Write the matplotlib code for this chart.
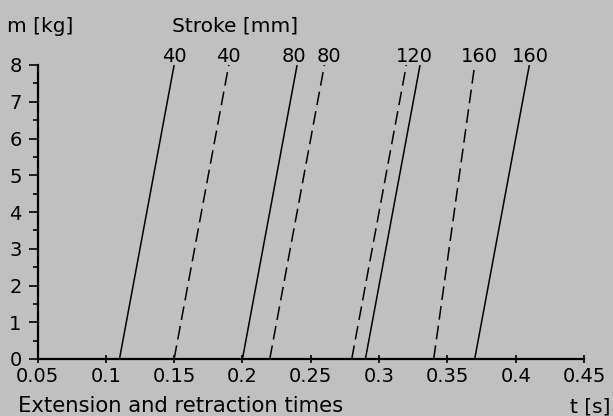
import matplotlib
matplotlib.use("Agg")
import matplotlib.pyplot as plt
from matplotlib.ticker import MultipleLocator

plt.rcParams['font.family'] = ['DejaVu Sans']

# Datos: tiempos (s) para m = 0 kg y m = 8 kg
masa = [0, 8]
t_sol = [(0.11, 0.15), (0.20, 0.24), (0.29, 0.33), (0.37, 0.41)]
t_dash = [(0.15, 0.19), (0.22, 0.26), (0.28, 0.32), (0.34, 0.37)]

# Etiquetas de carrera sobre las curvas
etiquetas = ['40', '40', '80', '80', '120', '160', '160']
etiq_x = [0.150, 0.190, 0.2375, 0.2634, 0.3256, 0.3732, 0.4105]

x_ticks = [0.05, 0.1, 0.15, 0.2, 0.25, 0.3, 0.35, 0.4, 0.45]
x_labels = ['0.05', '0.1', '0.15', '0.2', '0.25', '0.3', '0.35', '0.4', '0.45']

fs = 14
fs_lab = 14.5
bg = '#c0c0c0'
fig = plt.figure(figsize=(6.13, 4.16), dpi=100, facecolor=bg)
ax = fig.add_axes([37.5 / 613, 1 - 359 / 416, (584 - 37.5) / 613, (359 - 65) / 416])
ax.set_facecolor(bg)

for t in t_sol:
    ax.plot(t, masa, color='black', lw=1.1, solid_capstyle='butt')
for t in t_dash:
    ax.plot(t, masa, color='black', lw=1.1, dashes=(9, 4))

for lab, x in zip(etiquetas, etiq_x):
    ax.text(x, 8.08, lab, ha='center', va='baseline', fontsize=fs, clip_on=False)

ax.set_xlim(0.05, 0.45)
ax.set_ylim(0, 8)
ax.spines['top'].set_visible(False)
ax.spines['right'].set_visible(False)
ax.spines['left'].set_linewidth(1.6)
ax.spines['bottom'].set_linewidth(1.6)

ax.set_xticks(x_ticks)
ax.set_xticklabels(x_labels)
ax.set_yticks(range(0, 9))
ax.yaxis.set_minor_locator(MultipleLocator(0.5))
ax.tick_params(axis='x', direction='inout', length=6, width=1.2, pad=3, labelsize=fs)
ax.tick_params(axis='y', which='major', direction='out', length=6.5, width=1.2, pad=5, labelsize=fs)
ax.tick_params(axis='y', which='minor', direction='out', length=3.5, width=1.2)

fig.text(7 / 613, 1 - 31.5 / 416, 'm [kg]', fontsize=fs_lab, va='baseline', ha='left')
fig.text(172 / 613, 1 - 31.5 / 416, 'Stroke [mm]', fontsize=fs_lab, va='baseline', ha='left')
fig.text(18 / 613, 1 - 412.5 / 416, 'Extension and retraction times', fontsize=15.2, va='baseline', ha='left')
fig.text(610 / 613, 1 - 412.5 / 416, 't [s]', fontsize=fs_lab, va='baseline', ha='right')

fig.savefig('out.png', dpi=100, facecolor=bg)
